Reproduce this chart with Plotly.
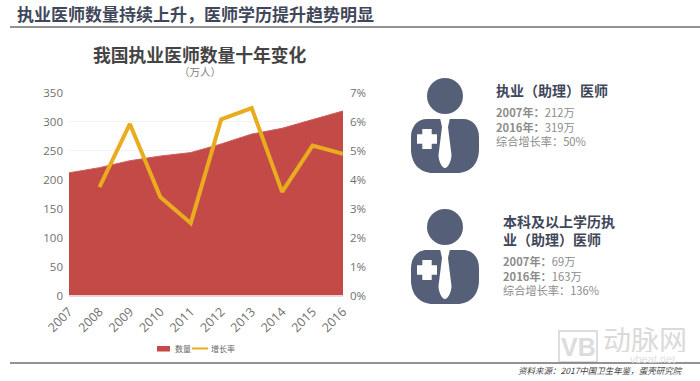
import plotly.graph_objects as go

W, H = 700, 381
years = ["2007", "2008", "2009", "2010", "2011", "2012", "2013", "2014", "2015", "2016"]
doctors = [212, 221, 233, 241, 247, 262, 279, 289, 304, 319]
growth = [None, 3.75, 5.93, 3.4, 2.5, 6.09, 6.48, 3.58, 5.18, 4.9]
left_ticks = [0, 50, 100, 150, 200, 250, 300, 350]
right_ticks = [0, 1, 2, 3, 4, 5, 6, 7]
right_labels = ["0%", "1%", "2%", "3%", "4%", "5%", "6%", "7%"]

CJK = "Noto Sans CJK SC"
NAVY = "#565f78"
DARK = "#41475a"
GREY = "#8c8c8c"
RED = "#C44A47"
GOLD = "#E8AC1E"


def fx(x):
    return x / W


def fy(y):
    return 1 - y / H


def text(x, y, s, size, color, anchor="left", **kw):
    if anchor == "left":
        x -= 2
    return dict(x=fx(x), y=fy(y), xref="paper", yref="paper", text=s, showarrow=False,
                xanchor=anchor, yanchor="middle", align=anchor,
                font=dict(family=kw.pop("family", CJK), size=size, color=color), **kw)


def path(cmds):
    out = []
    for c in cmds:
        if isinstance(c, str):
            out.append(c)
        else:
            out.append(f"{fx(c[0]):.5f},{fy(c[1]):.5f}")
    return " ".join(out)


def icon(cx, top):
    """Person badge: cx = centre of head, top = top of the body (pixels)."""
    p = lambda dx, dy: (cx + dx, top + dy)
    body = path(["M", p(-18, 0), "L", p(18, 0), "C", p(28, 0), p(34, 8), p(34, 18),
                 "L", p(34, 30), "C", p(34, 45), p(25, 54), p(12, 54),
                 "L", p(-12, 54), "C", p(-25, 54), p(-34, 45), p(-34, 30),
                 "L", p(-34, 18), "C", p(-34, 8), p(-28, 0), p(-18, 0), "Z"])
    tie = path(["M", p(-5, -1), "L", p(5, -1), "L", p(3, 8), "L", p(6.5, 36),
                "C", p(6.5, 42), p(3, 49), p(0, 49), "C", p(-3, 49), p(-6.5, 42), p(-6.5, 36),
                "L", p(-3, 8), "Z"])
    a, b = 3.2, 8.5
    ox, oy = -18, 20
    cross = path(["M", p(ox - a, oy - b), "L", p(ox + a, oy - b), "L", p(ox + a, oy - a),
                  "L", p(ox + b, oy - a), "L", p(ox + b, oy + a), "L", p(ox + a, oy + a),
                  "L", p(ox + a, oy + b), "L", p(ox - a, oy + b), "L", p(ox - a, oy + a),
                  "L", p(ox - b, oy + a), "L", p(ox - b, oy - a), "L", p(ox - a, oy - a), "Z"])
    head = dict(type="circle", xref="paper", yref="paper", fillcolor=NAVY, line_width=0,
                x0=fx(cx - 18), x1=fx(cx + 18), y0=fy(top - 5), y1=fy(top - 41))
    return [head,
            dict(type="path", path=body, xref="paper", yref="paper", fillcolor=NAVY, line_width=0),
            dict(type="path", path=tie, xref="paper", yref="paper", fillcolor="white", line_width=0),
            dict(type="path", path=cross, xref="paper", yref="paper", fillcolor="white",
                 line=dict(color="white", width=3))]


def rule(y):
    return dict(type="line", xref="paper", yref="paper", x0=fx(10), x1=1, y0=fy(y), y1=fy(y),
                line=dict(color="#6f6f6f", width=1.5))


fig = go.Figure()
fig.add_trace(go.Scatter(x=years, y=doctors, name="数量", mode="lines", fill="tozeroy",
                         fillcolor=RED, line=dict(color="#C9605C", width=1), yaxis="y"))
fig.add_trace(go.Scatter(x=years, y=growth, name="增长率", mode="lines",
                         line=dict(color=GOLD, width=4), yaxis="y2"))

shapes = [rule(27), rule(363)]
shapes += icon(445, 119) + icon(445, 250)
shapes.append(dict(type="rect", xref="paper", yref="paper", x0=fx(559), x1=fx(597), y0=fy(331), y1=fy(362),
                   line=dict(color="#dddddd", width=2), layer="below"))
# legend keys
shapes.append(dict(type="rect", xref="paper", yref="paper", x0=fx(157), x1=fx(170), y0=fy(346), y1=fy(351.5),
                   fillcolor=RED, line_width=0))
shapes.append(dict(type="line", xref="paper", yref="paper", x0=fx(192), x1=fx(208), y0=fy(348.5), y1=fy(348.5),
                   line=dict(color=GOLD, width=2)))


def block(x, y, row1, row2, rate):
    return text(x, y, f"<b>{row1[0]}</b>{row1[1]}<br><b>{row2[0]}</b>{row2[1]}<br>{rate}", 11.2, GREY)


annotations = [
    text(17, 13, "<b>执业医师数量持续上升，医师学历提升趋势明显</b>", 17, DARK),
    text(200, 53.5, "<b>我国执业医师数量十年变化</b>", 17.8, "#444444", anchor="center", height=22),
    text(200, 71.5, "（万人）", 10.5, "#808080", anchor="center", height=13),
    text(496, 90, "<b>执业（助理）医师</b>", 14, DARK),
    block(496, 126, ("2007年：", "212万"), ("2016年：", "319万"), "综合增长率：50%"),
    text(503, 229.5, "<b>本科及以上学历执<br>业（助理）医师</b>", 14, DARK),
    block(503, 275, ("2007年：", "69万"), ("2016年：", "163万"), "综合增长率：136%"),
    text(578, 347, "<b>VB</b>", 25, "#dcdcdc", anchor="center", family="Liberation Sans"),
    text(645, 339, "动脉网", 28, "#dadada", anchor="center", height=26),
    text(652, 359, "vbeat.net", 11, "#e2e2e2", anchor="center", family="Liberation Sans", height=12),
    text(685, 370, "<i>资料来源：2017中国卫生年鉴，蛋壳研究院</i>", 8.5, "#444444", anchor="right"),
    text(175, 348.5, "数量", 8, "#666666"),
    text(211, 348.5, "增长率", 8, "#666666"),
]

fig.update_layout(
    width=W, height=H, margin=dict(l=0, r=0, t=0, b=0, autoexpand=False),
    paper_bgcolor="white", plot_bgcolor="white", showlegend=False,
    font=dict(family="Open Sans", color="#707070", size=11.5),
    xaxis=dict(domain=[fx(69), fx(343)], type="category", categoryorder="array", categoryarray=years,
               range=[0, 9], tickangle=-45, showgrid=False, zeroline=False, ticklabelstandoff=3,
               showline=True, linecolor="#dcdcdc", ticks="", automargin=False, tickfont=dict(size=12.5)),
    yaxis=dict(domain=[fy(295.5), fy(93)], range=[0, 350], tickvals=left_ticks, showgrid=True,
               gridcolor="#f2f2f2", zeroline=False, ticks="", automargin=False, ticklabelstandoff=5),
    yaxis2=dict(overlaying="y", side="right", anchor="x", range=[0, 7], tickvals=right_ticks,
                ticktext=right_labels, showgrid=False, zeroline=False, ticks="", automargin=False,
                ticklabelstandoff=6),
    shapes=shapes, annotations=annotations,
)
fig.write_html("out.html", config={"displayModeBar": False},
               post_script="document.body.style.margin='0';document.documentElement.style.overflow='hidden';")
